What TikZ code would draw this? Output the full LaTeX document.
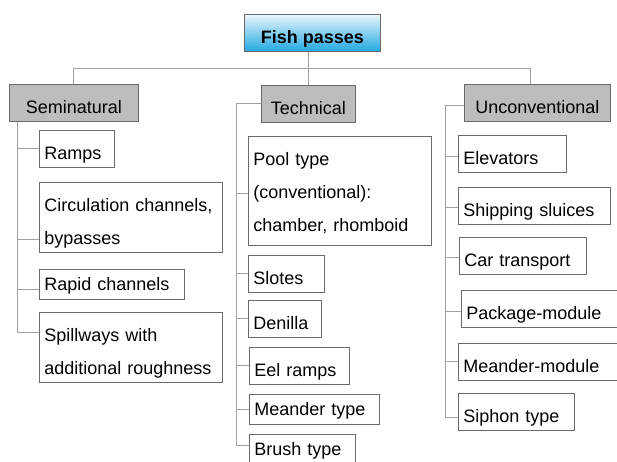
\documentclass[tikz,border=0pt]{standalone}
\usepackage{fontspec}
\setmainfont{Liberation Sans}
\usepackage{tikz}
\usepackage{xcolor}
\usetikzlibrary{positioning}

\definecolor{boxline}{HTML}{6A6A6A}
\definecolor{linkgray}{HTML}{A0A0A0}
\definecolor{groupfill}{HTML}{BDBDBD}
\definecolor{topsky}{HTML}{EAF6FC}
\definecolor{bottomsky}{HTML}{22A8E2}

\newcommand\leaffont{\fontsize{18}{33}\selectfont}
\newcommand\tallstrut{\rule[-4pt]{0pt}{29pt}}
\newcommand\shortstrut{\rule[-5pt]{0pt}{22pt}}

\tikzset{
  box/.style={draw=boxline, line width=0.8pt, anchor=north west, inner xsep=5pt, inner ysep=4pt, align=left, font=\leaffont},
  leaf/.style={box, execute at begin node=\tallstrut, execute at end node=\tallstrut},
  thin leaf/.style={box, execute at begin node=\shortstrut, execute at end node=\shortstrut},
  group/.style={draw=boxline, line width=0.8pt, fill=groupfill, anchor=north west, minimum height=37pt, inner xsep=0pt, inner ysep=4pt, text height=25pt, text depth=4pt, font=\leaffont},
  title/.style={group, top color=topsky, bottom color=bottomsky, font=\leaffont\bfseries},
  link/.style={draw=linkgray, line width=0.9pt},
}

\begin{document}
\begin{tikzpicture}[x=1pt, y=-1pt]
\useasboundingbox (0,0) rectangle (617,461);
\clip (0,0) rectangle (617,461);

% top level
\node[title, minimum width=136pt] (fish) at (244,14) {Fish passes};
\node[group, minimum width=129pt] (semi) at (9,84) {Seminatural};
\node[group, minimum width=94pt] (tech) at (261,85) {Technical};
\node[group, minimum width=146pt] (uncon) at (464,84) {Unconventional};

% seminatural
\node[leaf, text width=65pt] (ramps) at (39,130) {Ramps};
\node[leaf, text width=173pt] (circ) at (39,182) {Circulation channels,\\bypasses};
\node[thin leaf, text width=135pt] (rapid) at (39,269) {Rapid channels};
\node[leaf, text width=173pt] (spill) at (39,312) {Spillways with\\additional roughness};

% technical
\node[leaf, text width=173pt, execute at end node={\rule[-10pt]{0pt}{0pt}}] (pool) at (248,136) {Pool type\\(conventional):\\chamber, rhomboid};
\node[leaf, text width=66pt] (slotes) at (248,255) {Slotes};
\node[leaf, text width=63pt] (denilla) at (248,300) {Denilla};
\node[leaf, text width=90pt] (eel) at (249,347) {Eel ramps};
\node[thin leaf, text width=120pt] (meander) at (249,394) {Meander type};
\node[thin leaf, text width=96pt] (brush) at (249,434) {Brush type};

% unconventional
\node[leaf, text width=98pt] (elev) at (458,135) {Elevators};
\node[leaf, text width=142pt] (ship) at (458,187) {Shipping sluices};
\node[leaf, text width=117pt] (car) at (459,237) {Car transport};
\node[leaf, text width=156pt] (pack) at (461,290) {Package-module};
\node[leaf, text width=159pt] (mean) at (458,343) {Meander-module};
\node[leaf, text width=106pt] (siph) at (458,393) {Siphon type};

% joints on the spines
\coordinate (bus) at (530,68);
\coordinate (semispine) at (17,0);
\coordinate (techspine) at (236,0);
\coordinate (unconspine) at (445,0);
\coordinate (circjoint) at ([yshift=-22pt]circ.west);
\coordinate (rapidjoint) at ([yshift=-5pt]rapid.west);
\coordinate (spilljoint) at ([yshift=15pt]spill.west);
\coordinate (pooljoint) at ([yshift=-3pt]pool.west);
\coordinate (brushjoint) at ([yshift=4pt]brush.west);
\coordinate (elevjoint) at ([yshift=-3pt]elev.west);
\coordinate (shipjoint) at ([yshift=-2pt]ship.west);
\coordinate (carjoint) at ([yshift=-2pt]car.west);
\coordinate (packjoint) at ([yshift=-3pt]pack.west);
\coordinate (siphjoint) at ([yshift=-6pt]siph.west);

\draw[link] (tech.north |- fish.south) -- (tech.north);
\draw[link] (semi.north) |- (bus) -- (bus |- uncon.north);

\draw[link] (semispine |- semi.south) |- (spilljoint);
\draw[link] (semispine |- ramps.west) -- (ramps.west);
\draw[link] (semispine |- circjoint) -- (circjoint);
\draw[link] (semispine |- rapidjoint) -- (rapidjoint);

\draw[link] (tech.west) -| (techspine |- brushjoint) -- (brushjoint);
\draw[link] (techspine |- pooljoint) -- (pooljoint);
\draw[link] (techspine |- slotes.west) -- (slotes.west);
\draw[link] (techspine |- denilla.west) -- (denilla.west);
\draw[link] (techspine |- eel.west) -- (eel.west);
\draw[link] (techspine |- meander.west) -- (meander.west);

\draw[link] ([yshift=-3pt]uncon.west) -| (unconspine |- siphjoint) -- (siphjoint);
\draw[link] (unconspine |- elevjoint) -- (elevjoint);
\draw[link] (unconspine |- shipjoint) -- (shipjoint);
\draw[link] (unconspine |- carjoint) -- (carjoint);
\draw[link] (unconspine |- packjoint) -- (packjoint);
\draw[link] (unconspine |- mean.west) -- (mean.west);
\end{tikzpicture}
\end{document}
